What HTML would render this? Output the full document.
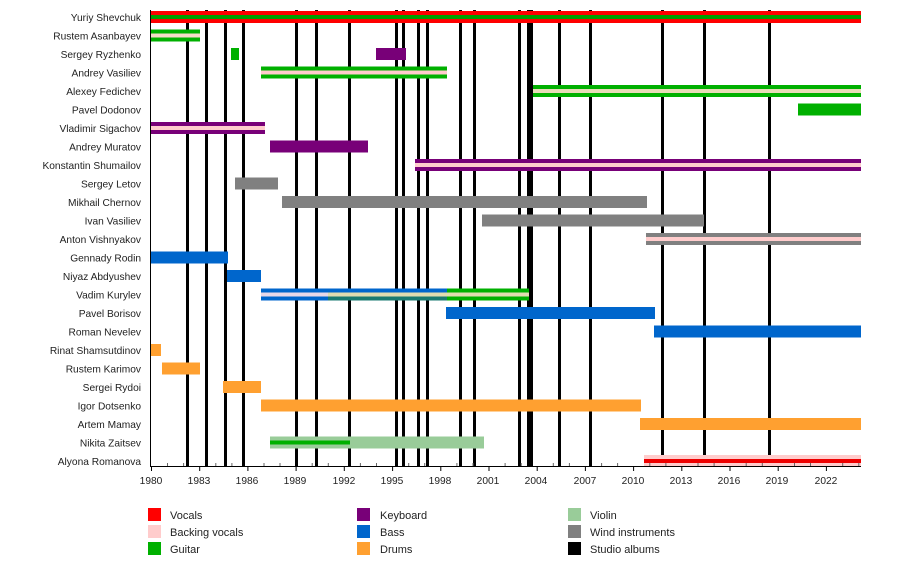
<!DOCTYPE html>
<html><head><meta charset="utf-8"><style>body{margin:0;background:#fff}svg{display:block}text{font-family:"Liberation Sans",sans-serif;font-size:10.2px;fill:#222}.lg text{font-size:11px}</style></head><body>
<svg width="900" height="566" xmlns="http://www.w3.org/2000/svg">
<g fill="#000">
<rect x="186" y="10" width="3" height="456"/><rect x="205" y="10" width="3" height="456"/><rect x="224" y="10" width="3" height="456"/><rect x="242" y="10" width="3" height="456"/><rect x="295" y="10" width="3" height="456"/><rect x="315" y="10" width="3" height="456"/><rect x="348" y="10" width="3" height="456"/><rect x="395" y="10" width="3" height="456"/><rect x="402" y="10" width="3" height="456"/><rect x="417" y="10" width="3" height="456"/><rect x="426" y="10" width="3" height="456"/><rect x="459" y="10" width="3" height="456"/><rect x="473" y="10" width="3" height="456"/><rect x="518" y="10" width="3" height="456"/><rect x="527" y="10" width="3" height="456"/><rect x="530" y="10" width="3" height="456"/><rect x="558" y="10" width="3" height="456"/><rect x="589" y="10" width="3" height="456"/><rect x="661" y="10" width="3" height="456"/><rect x="703" y="10" width="3" height="456"/><rect x="768" y="10" width="3" height="456"/>
</g>
<rect x="151" y="11" width="710" height="12" fill="#f00"/><rect x="151" y="15" width="710" height="4" fill="#00a000"/>
<rect x="151" y="29.5" width="49" height="12" fill="#00b000"/><rect x="151" y="33.5" width="49" height="4" fill="#f5dcc8"/>
<rect x="231" y="48" width="8" height="12" fill="#00b000"/><rect x="376" y="48" width="30" height="12" fill="#780078"/>
<rect x="261" y="66.5" width="186" height="12" fill="#00b000"/><rect x="261" y="70.5" width="186" height="4" fill="#fcc"/>
<rect x="533" y="85" width="328" height="12" fill="#00b000"/><rect x="533" y="89" width="328" height="4" fill="#e8dcb8"/>
<rect x="798" y="103.5" width="63" height="12" fill="#00b000"/>
<rect x="151" y="122" width="114" height="12" fill="#780078"/><rect x="151" y="126" width="114" height="4" fill="#fcc"/>
<rect x="270" y="140.5" width="98" height="12" fill="#780078"/>
<rect x="415" y="159" width="446" height="12" fill="#780078"/><rect x="415" y="163" width="446" height="4" fill="#fcc"/>
<rect x="235" y="177.5" width="43" height="12" fill="#808080"/>
<rect x="282" y="196" width="365" height="12" fill="#808080"/>
<rect x="482" y="214.5" width="222" height="12" fill="#808080"/>
<rect x="646" y="233" width="215" height="12" fill="#808080"/><rect x="646" y="237" width="215" height="4" fill="#fcc"/>
<rect x="151" y="251.5" width="77" height="12" fill="#0066cc"/>
<rect x="227" y="270" width="34" height="12" fill="#0066cc"/>
<rect x="261" y="288.5" width="186" height="12" fill="#0066cc"/><rect x="447" y="288.5" width="82" height="12" fill="#00b000"/><rect x="328" y="292.5" width="119" height="8" fill="#1a7a70"/><rect x="261" y="292.5" width="67" height="4" fill="#e8d8e8"/><rect x="328" y="292.5" width="201" height="4" fill="#e0dcb0"/>
<rect x="446" y="307" width="209" height="12" fill="#0066cc"/>
<rect x="654" y="325.5" width="207" height="12" fill="#0066cc"/>
<rect x="151" y="344" width="10" height="12" fill="#ffa030"/>
<rect x="162" y="362.5" width="38" height="12" fill="#ffa030"/>
<rect x="223" y="381" width="38" height="12" fill="#ffa030"/>
<rect x="261" y="399.5" width="380" height="12" fill="#ffa030"/>
<rect x="640" y="418" width="221" height="12" fill="#ffa030"/>
<rect x="270" y="436.5" width="214" height="12" fill="#99cc99"/><rect x="270" y="440.5" width="80" height="4" fill="#00b000"/>
<rect x="644" y="455" width="217" height="12" fill="#fcc"/><rect x="644" y="459" width="217" height="4" fill="#e00"/>
<rect x="150" y="10" width="1" height="457" fill="#000"/>
<rect x="150" y="466" width="711" height="1" fill="#000"/>
<g stroke="#000" stroke-width="1">
<path d="M151.5 466v5M199.7 466v5M247.9 466v5M296.1 466v5M344.3 466v5M392.6 466v5M440.8 466v5M489 466v5M537.2 466v5M585.4 466v5M633.6 466v5M681.8 466v5M730 466v5M778.2 466v5M826.4 466v5"/>
<path stroke="#666" d="M167.5 466v-3M183.6 466v-3M215.8 466v-3M231.9 466v-3M264 466v-3M280 466v-3M312.2 466v-3M328.3 466v-3M360.4 466v-3M376.5 466v-3M408.7 466v-3M424.7 466v-3M456.9 466v-3M473 466v-3M505.1 466v-3M521.2 466v-3M553.3 466v-3M569.4 466v-3M601.6 466v-3M617.6 466v-3M649.8 466v-3M665.9 466v-3M698 466v-3M714.1 466v-3M746.2 466v-3M762.3 466v-3M794.5 466v-3M810.5 466v-3M842.7 466v-3M858.8 466v-3"/>
</g>
<g text-anchor="middle">
<text x="151" y="484">1980</text><text x="199" y="484">1983</text><text x="247" y="484">1986</text><text x="295" y="484">1989</text><text x="344" y="484">1992</text><text x="392" y="484">1995</text><text x="440" y="484">1998</text><text x="488" y="484">2001</text><text x="536" y="484">2004</text><text x="585" y="484">2007</text><text x="633" y="484">2010</text><text x="681" y="484">2013</text><text x="729" y="484">2016</text><text x="777" y="484">2019</text><text x="826" y="484">2022</text>
</g>
<g text-anchor="end">
<text x="141" y="21">Yuriy Shevchuk</text><text x="141" y="39.5">Rustem Asanbayev</text><text x="141" y="58">Sergey Ryzhenko</text><text x="141" y="76.5">Andrey Vasiliev</text><text x="141" y="95">Alexey Fedichev</text><text x="141" y="113.5">Pavel Dodonov</text><text x="141" y="132">Vladimir Sigachov</text><text x="141" y="150.5">Andrey Muratov</text><text x="141" y="169">Konstantin Shumailov</text><text x="141" y="187.5">Sergey Letov</text><text x="141" y="206">Mikhail Chernov</text><text x="141" y="224.5">Ivan Vasiliev</text><text x="141" y="243">Anton Vishnyakov</text><text x="141" y="261.5">Gennady Rodin</text><text x="141" y="280">Niyaz Abdyushev</text><text x="141" y="298.5">Vadim Kurylev</text><text x="141" y="317">Pavel Borisov</text><text x="141" y="335.5">Roman Nevelev</text><text x="141" y="354">Rinat Shamsutdinov</text><text x="141" y="372.5">Rustem Karimov</text><text x="141" y="391">Sergei Rydoi</text><text x="141" y="409.5">Igor Dotsenko</text><text x="141" y="428">Artem Mamay</text><text x="141" y="446.5">Nikita Zaitsev</text><text x="141" y="465">Alyona Romanova</text>
</g>
<g class="lg">
<rect x="148" y="508" width="13" height="13" fill="#f00"/><text x="170" y="519">Vocals</text>
<rect x="148" y="525" width="13" height="13" fill="#fcc"/><text x="170" y="536">Backing vocals</text>
<rect x="148" y="542" width="13" height="13" fill="#00b000"/><text x="170" y="553">Guitar</text>
<rect x="357" y="508" width="13" height="13" fill="#780078"/><text x="380" y="519">Keyboard</text>
<rect x="357" y="525" width="13" height="13" fill="#0066cc"/><text x="380" y="536">Bass</text>
<rect x="357" y="542" width="13" height="13" fill="#ffa030"/><text x="380" y="553">Drums</text>
<rect x="568" y="508" width="13" height="13" fill="#99cc99"/><text x="590" y="519">Violin</text>
<rect x="568" y="525" width="13" height="13" fill="#808080"/><text x="590" y="536">Wind instruments</text>
<rect x="568" y="542" width="13" height="13" fill="#000"/><text x="590" y="553">Studio albums</text>
</g>
</svg>
</body></html>
